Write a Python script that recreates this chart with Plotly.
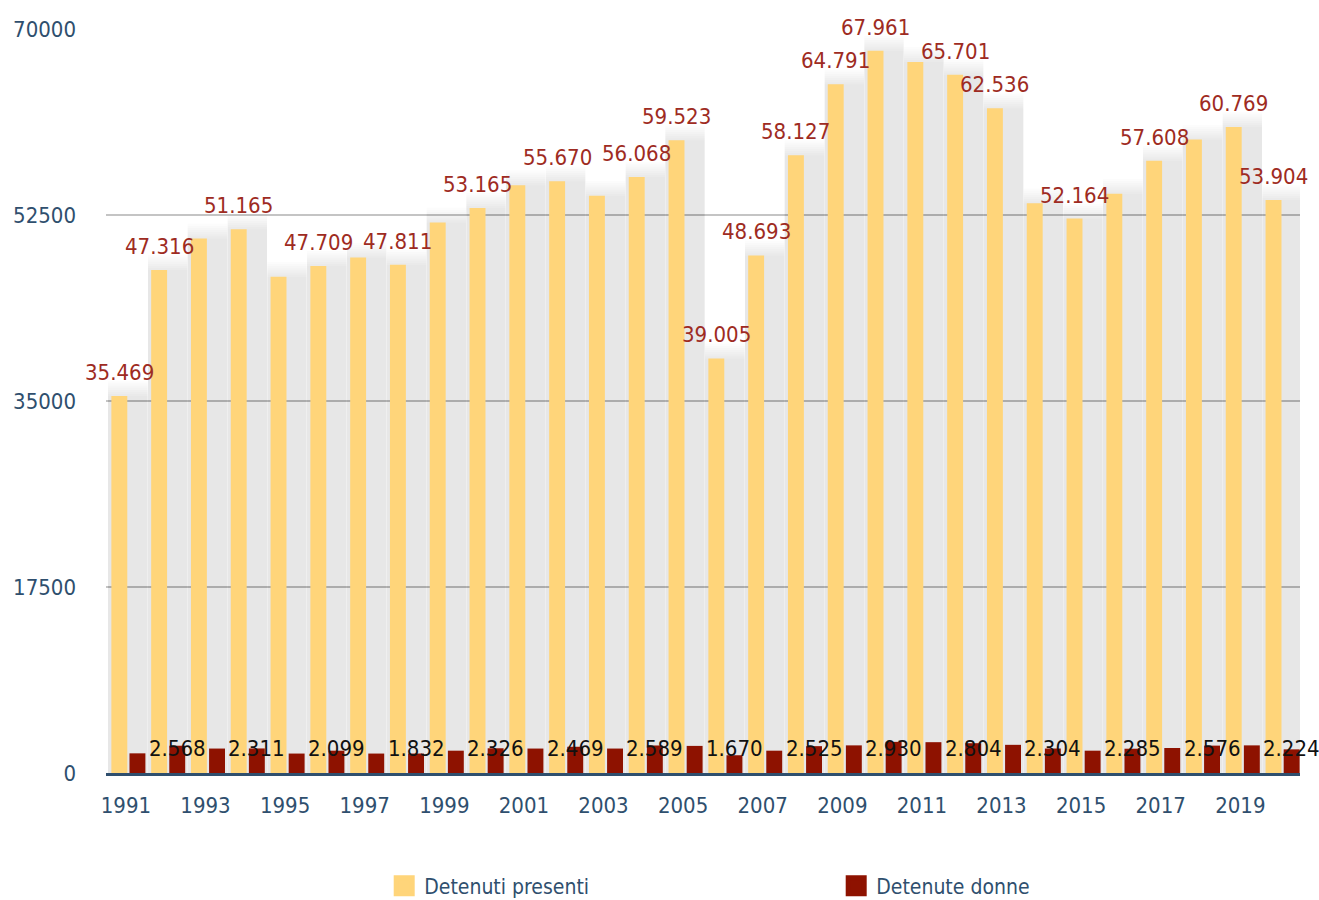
import plotly.graph_objects as go

years = list(range(1991, 2021))
detenuti_presenti = [35469, 47316, 50300, 51165, 46700, 47709, 48500, 47811, 51800, 53165,
                     55300, 55670, 54300, 56068, 59523, 39005, 48693, 58127, 64791, 67961,
                     66900, 65701, 62536, 53600, 52164, 54500, 57608, 59600, 60769, 53904]
detenute_donne = [1850, 2568, 2300, 2311, 1830, 2099, 1830, 1832, 2100, 2326,
                  2300, 2469, 2300, 2589, 2550, 1670, 2100, 2525, 2600, 2930,
                  2900, 2804, 2650, 2304, 2100, 2285, 2350, 2576, 2600, 2224]
# which value labels are visible in the original
show_presenti = [1, 1, 0, 1, 0, 1, 0, 1, 0, 1, 0, 1, 0, 1, 1, 1, 1, 1, 1, 1,
                 0, 1, 1, 0, 1, 0, 1, 0, 1, 1]
show_donne = [0, 1, 0, 1, 0, 1, 0, 1, 0, 1, 0, 1, 0, 1, 0, 1, 0, 1, 0, 1,
              0, 1, 0, 1, 0, 1, 0, 1, 0, 1]
y_ticks = [0, 17500, 35000, 52500, 70000]
x_ticks = years[::2]

FONT = "DejaVu Sans Condensed, sans-serif"
YELLOW = "#FFD57A"
DARKRED = "#8E1200"
LABEL_RED = "#9E2B22"
AXIS_BLUE = "#2F4F6E"

W_BAR = 0.40
OFF_Y = -0.365
OFF_R = 0.09
RED_LABEL_Y = 2260
# soft shadow: extra heights of the stacked translucent layers
SHADOW_PADS = [1400, 1200, 1000, 800, 600, 400, 200, 0]
SHADOW_ALPHA = 0.01


def fmt(v):
    return f"{v:,}".replace(",", ".")


fig = go.Figure()
# soft shadow behind the bars
for pad in SHADOW_PADS:
    fig.add_trace(go.Bar(x=years, y=[v + pad for v in detenuti_presenti],
                         marker=dict(color=f"rgba(0,0,0,{SHADOW_ALPHA})", line=dict(width=0)),
                         offset=-0.45, width=1.0, showlegend=False, hoverinfo="skip"))
fig.add_trace(go.Bar(x=years, y=detenuti_presenti, name="Detenuti presenti",
                     marker=dict(color=YELLOW, line=dict(width=0)),
                     offset=OFF_Y, width=W_BAR, showlegend=False))
fig.add_trace(go.Bar(x=years, y=detenute_donne, name="Detenute donne",
                     marker=dict(color=DARKRED, line=dict(width=0)),
                     offset=OFF_R, width=W_BAR, showlegend=False))
# legend entries
fig.add_trace(go.Scatter(x=[None], y=[None], mode="markers", name="Detenuti presenti",
                         marker=dict(symbol="square", size=28, color=YELLOW,
                                     line=dict(color=YELLOW, width=5))))
fig.add_trace(go.Scatter(x=[None], y=[None], mode="markers", name="Detenute donne",
                         marker=dict(symbol="square", size=28, color=DARKRED,
                                     line=dict(color=DARKRED, width=5))))

annotations = []
for yr, v, s in zip(years, detenuti_presenti, show_presenti):
    if s:
        annotations.append(dict(x=yr + OFF_Y + W_BAR / 2, y=v, xref="x", yref="y",
                                text=fmt(v), showarrow=False, yanchor="bottom",
                                yshift=9, font=dict(family=FONT, size=22, color=LABEL_RED)))
for yr, v, s in zip(years, detenute_donne, show_donne):
    if s:
        annotations.append(dict(x=yr + OFF_R + W_BAR / 2, y=RED_LABEL_Y, xref="x", yref="y",
                                text=fmt(v), showarrow=False, yanchor="middle",
                                font=dict(family=FONT, size=22, color="#111111")))

fig.update_layout(
    width=1319, height=900,
    margin=dict(l=106, r=19, t=29, b=127, autoexpand=False),
    paper_bgcolor="white", plot_bgcolor="white",
    barmode="overlay",
    font=dict(family=FONT, size=22, color=AXIS_BLUE),
    annotations=annotations,
    legend=dict(orientation="h", x=0.233, xanchor="left", y=-0.152, yanchor="middle",
                entrywidth=407, entrywidthmode="pixels", itemsizing="trace",
                font=dict(family=FONT, size=21, color=AXIS_BLUE)),
    xaxis=dict(range=[1990.5, 2020.5], tickmode="array", tickvals=x_ticks,
               ticktext=[str(t) for t in x_ticks], showgrid=False, zeroline=False,
               showline=True, linecolor=AXIS_BLUE, linewidth=2.5, ticks="",
               automargin=False, ticklabelstandoff=11,
               tickfont=dict(family=FONT, size=22, color=AXIS_BLUE)),
    yaxis=dict(range=[0, 70000], tickmode="array", tickvals=y_ticks,
               ticktext=[str(t) for t in y_ticks], showgrid=True, gridcolor="#C4C4C4",
               gridwidth=1.5, zeroline=False, showline=False, ticks="",
               automargin=False, ticklabelstandoff=29,
               tickfont=dict(family=FONT, size=22, color=AXIS_BLUE)),
)

fig.write_html("out.html", config={"displayModeBar": False},
               post_script="document.body.style.margin='0px';")
